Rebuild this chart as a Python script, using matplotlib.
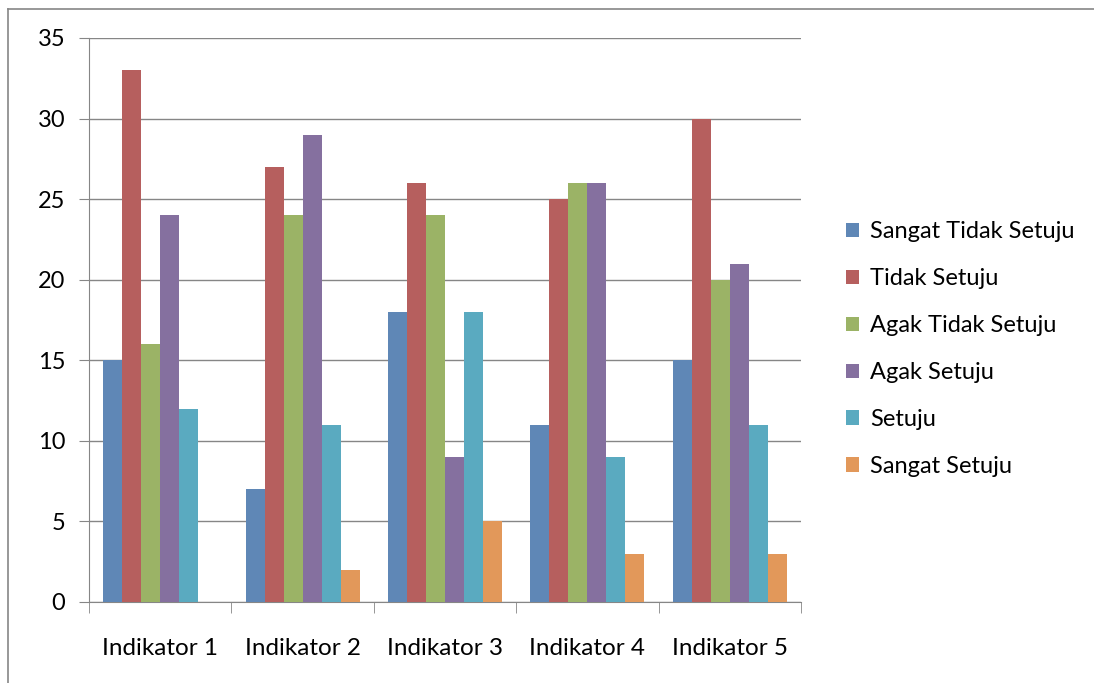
import numpy as np
import matplotlib.pyplot as plt
from matplotlib.lines import Line2D

categories = ['Indikator 1', 'Indikator 2', 'Indikator 3', 'Indikator 4', 'Indikator 5']
series_names = ['Sangat Tidak Setuju', 'Tidak Setuju', 'Agak Tidak Setuju',
                'Agak Setuju', 'Setuju', 'Sangat Setuju']
sangat_tidak_setuju = [15, 7, 18, 11, 15]
tidak_setuju = [33, 27, 26, 25, 30]
agak_tidak_setuju = [16, 24, 24, 26, 20]
agak_setuju = [24, 29, 9, 26, 21]
setuju = [12, 11, 18, 9, 11]
sangat_setuju = [0, 2, 5, 3, 3]
colors = ['#5F87B6', '#B65F5E', '#9BB366', '#85709F', '#5AAAC0', '#E2985A']

series = [sangat_tidak_setuju, tidak_setuju, agak_tidak_setuju,
          agak_setuju, setuju, sangat_setuju]

plt.rcParams['font.family'] = ['Lato', 'DejaVu Sans']

fig = plt.figure(figsize=(10.94, 6.83), dpi=100)
ax = fig.add_axes([89 / 1094, 1 - 602 / 683, 712 / 1094, 564 / 683])

x = np.arange(len(categories))
w = 0.8 / len(series)
for i, (vals, name, c) in enumerate(zip(series, series_names, colors)):
    ax.bar(x - 0.4 + w * (i + 0.5), vals, w, color=c, label=name, zorder=3)

ax.set_xlim(-0.5, len(categories) - 0.5)
ax.set_ylim(0, 35)
ax.set_yticks(range(0, 36, 5))
ax.tick_params(axis='y', labelsize=17, length=7, color='#868686', pad=10)
ax.yaxis.grid(True, color='#868686', linewidth=1, zorder=0)

ax.set_xticks(x)
ax.set_xticklabels(categories)
ax.set_xticks(np.arange(-0.5, len(categories), 1), minor=True)
ax.tick_params(axis='x', which='major', length=0, labelsize=17.5, pad=26)
ax.tick_params(axis='x', which='minor', length=8, color='#868686')

for side in ['top', 'right']:
    ax.spines[side].set_visible(False)
for side in ['left', 'bottom']:
    ax.spines[side].set_color('#868686')

# outer chart frame
fig.add_artist(Line2D([8 / 1094, 8 / 1094], [0, 1 - 9 / 683], color='#868686',
                      lw=1.2, transform=fig.transFigure))
fig.add_artist(Line2D([8 / 1094, 1], [1 - 9 / 683, 1 - 9 / 683], color='#868686',
                      lw=1.2, transform=fig.transFigure))

handles, labels = ax.get_legend_handles_labels()
fig.legend(handles, labels, loc='center left', bbox_to_anchor=(825 / 1094, 1 - 349 / 683),
           frameon=False, fontsize=17, handlelength=0.55, handleheight=0.55,
           handletextpad=0.45, labelspacing=1.1)

fig.savefig('out.png', dpi=100)
